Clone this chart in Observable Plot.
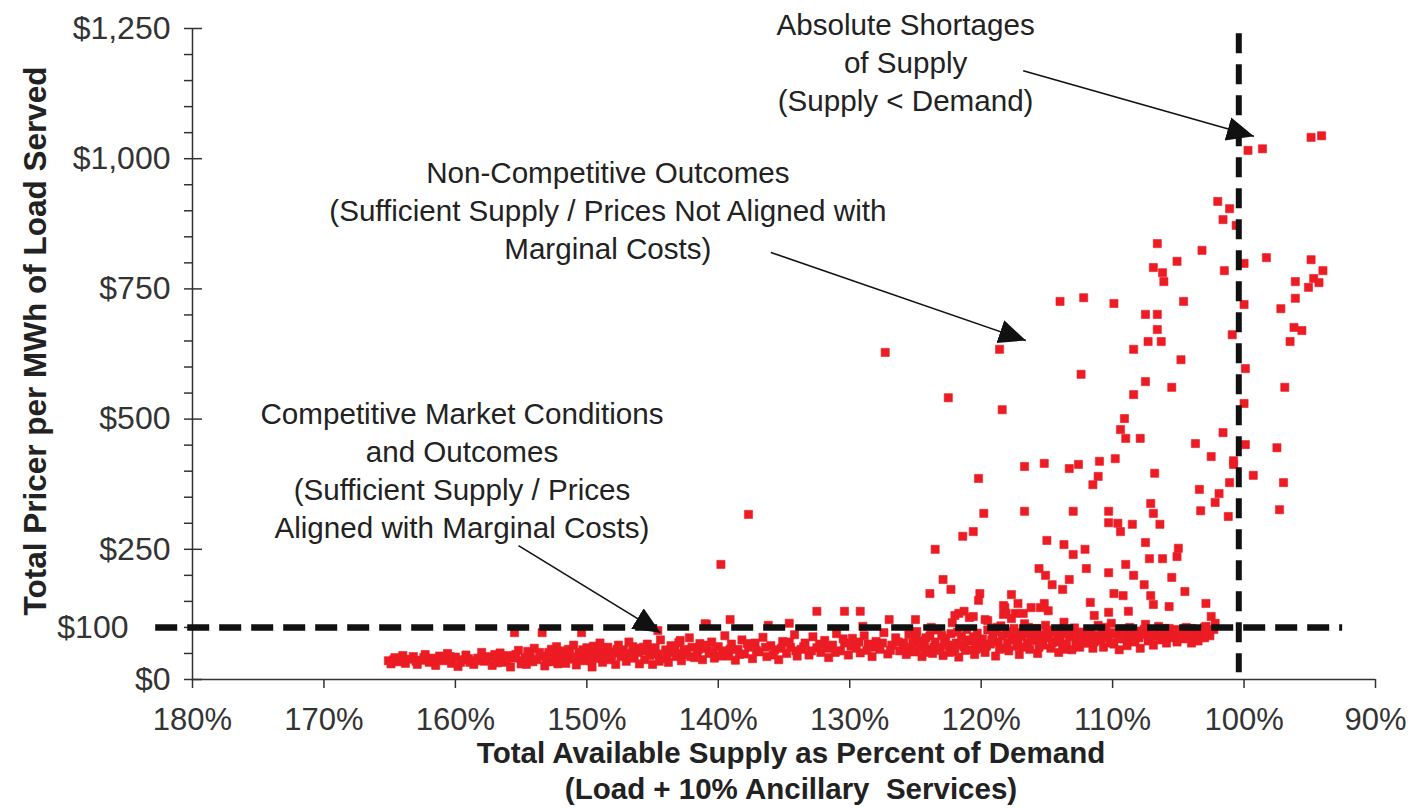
<!DOCTYPE html>
<html>
<head>
<meta charset="utf-8">
<script src="https://cdn.jsdelivr.net/npm/d3@7"></script>
<script src="https://cdn.jsdelivr.net/npm/@observablehq/plot@0.6"></script>
<style>
  html, body { margin: 0; padding: 0; background: #fff; }
  #chart { width: 1416px; height: 808px; }
</style>
</head>
<body>
<div id="chart"></div>
<script>
// ---- Data ----
// x: total available supply as % of demand, y: total price $/MWh
const sparsePoints = [
  [99.7,1016],[98.6,1019],[94.9,1041],[94.1,1044],
  [102.0,918],[101.1,904],[101.6,883],[100.6,872],[106.6,837],[103.2,824],[105.1,803],
  [106.9,791],[106.2,781],[106.1,764],[101.5,785],[100.0,799],[98.3,810],[94.9,806],
  [94.0,785],[96.1,764],[94.7,770],[94.3,762],[95.1,753],[96.1,732],[97.2,712],
  [100.0,720],[104.6,726],[107.5,701],[106.6,701],[109.9,722],[112.2,733],[114.0,726],
  [106.6,672],[107.3,649],[106.3,649],[108.4,634],[104.8,614],[100.9,662],[96.2,676],
  [95.6,670],[96.5,649],[118.6,634],[127.3,628],[112.4,586],[107.5,572],[105.5,561],
  [108.4,547],[99.9,597],[100.0,530],[96.9,561],[122.5,541],[118.4,518],[109.1,501],
  [109.4,480],[109.0,463],[107.9,463],[103.7,453],[101.6,474],[99.9,451],[97.5,445],
  [102.5,428],[100.8,420],[100.8,413],[99.3,392],[97.0,378],[101.1,378],[103.4,365],
  [101.9,357],[102.2,340],[103.3,324],[101.2,313],[97.3,326],[106.8,396],[109.8,424],
  [111.0,419],[112.6,413],[113.3,405],[111.1,390],[111.5,374],[115.2,415],[116.7,409],
  [120.2,386],[107.1,338],[106.9,319],[106.4,298],[108.5,298],[110.3,323],[110.3,301],
  [109.6,300],[109.4,284],[107.5,263],[105.0,252],[105.1,236],[106.2,232],[107.2,232],
  [109.0,221],[113.0,323],[116.7,323],[119.8,319],[120.6,284],[121.4,275],[123.5,250],
  [122.9,192],[122.3,173],[123.9,165],[115.0,267],[113.7,259],[113.0,240],[112.1,250],
  [115.6,213],[115.1,200],[114.6,182],[113.8,173],[113.3,192],[112.0,213],[110.3,205],
  [108.4,200],[107.6,182],[107.1,161],[106.9,144],[105.7,140],[105.5,196],[104.5,169],
  [109.9,165],[109.2,161],[111.7,148],[108.8,131],[110.3,129],[111.4,123],[102.9,146],
  [102.5,121],[102.2,108],[137.7,317],[139.8,221],
  [120.1,165],[120.2,152],[118.2,138],[117.7,163],[117.2,146],[121.7,127],[121.3,131],
  [120.9,119],[132.5,131],[130.4,131],[129.2,131],[118.3,125],[119.7,115],[127.0,115],
  [125.0,115],[139.1,115],[118.3,142],[115.2,146],[114.9,132],[115.5,138],[118.1,127],
  [117.4,127],[117.7,117],[116.8,127],[116.2,138],[104.0,98],[103.0,100],
  [122.0,123],[120.6,121],[119.5,113],[140.9,106],[134.6,108],[136.2,104],[129.0,102],
  [123.8,100],[122.2,109],[155.5,90],[153.4,90],[150.4,90],[144.6,94],[141.0,107],[142.9,75]
];

const bandPoints = [
  [165.1,36],[164.9,30],[164.6,42],[164.3,34],[164.0,46],[163.8,31],[163.5,39],[163.2,44],
  [162.9,29],[162.6,37],[162.3,48],[162.0,33],[161.8,41],[161.5,27],[161.2,45],[160.9,36],
  [160.6,50],[160.3,31],[160.0,43],[159.8,25],[159.5,38],[159.2,47],[158.9,33],[158.6,29],
  [158.3,41],[158.0,52],
  [157.8,35],[157.5,44],[157.2,27],[156.9,39],[156.6,51],[156.3,33],[156.0,46],[155.8,24],
  [155.5,41],[155.2,56],[154.9,36],[154.6,29],[154.3,48],[154.0,60],[153.8,38],[153.5,45],
  [153.2,26],[152.9,52],[152.6,34],[152.3,63],[152.0,41],[157.0,48],[155.0,30],[153.0,35],
  [152.4,48],[156.5,40],[154.5,54],
  [151.8,47],[151.6,31],[151.4,58],[151.2,39],[151.0,66],[150.8,28],[150.6,52],[150.4,44],
  [150.2,36],[150.0,61],[149.8,49],[149.6,24],[149.4,55],[149.2,40],[149.0,70],[148.8,33],
  [148.6,47],[148.4,62],[148.2,38],[148.0,53],[147.8,29],[147.6,66],[147.4,44],[147.2,57],
  [147.0,35],[146.8,72],[146.6,50],[146.4,41],[146.2,60],[146.0,30],[151.5,45],[150.5,38],
  [149.5,64],[148.5,56],[147.5,51],[146.5,63],[149.9,42],[148.9,49],
  [145.8,55],[145.6,38],[145.4,68],[145.2,46],[145.0,29],[144.8,61],[144.6,49],[144.4,76],
  [144.2,40],[144.0,57],[143.8,33],[143.6,65],[143.4,52],[143.2,44],[143.0,71],[142.8,36],
  [142.6,58],[142.4,48],[142.2,80],[142.0,62],[141.8,42],[141.6,53],[141.4,69],[141.2,38],
  [141.0,60],
  [140.7,50],[140.5,72],[140.3,41],[140.0,63],[139.7,55],[139.5,84],[139.2,45],[139.0,68],
  [138.7,37],[138.5,58],[138.2,76],[138.0,49],[137.7,62],[137.4,40],[137.2,70],[136.9,53],
  [136.6,81],[136.3,44],[136.0,65],[135.7,57],[135.4,38],[135.1,73],[134.8,50],[134.5,62],
  [134.2,86],[134.0,45],
  [133.7,58],[133.4,70],[133.1,47],[132.8,82],[132.5,61],[132.2,52],[131.9,75],[131.6,42],
  [131.3,66],[131.0,88],[130.7,55],[130.4,70],[130.1,47],[129.8,79],[129.5,60],[129.2,51],
  [128.9,84],[128.6,68],[128.3,44],[128.0,73],[127.7,58],[127.4,90],[127.1,49],[126.8,66],
  [126.5,80],[126.2,55],
  [125.9,70],[125.7,48],[125.5,86],[125.3,62],[125.1,53],[124.9,92],[124.7,75],[124.5,44],
  [124.3,68],[124.1,58],[123.9,84],[123.7,50],[123.5,72],[123.3,95],[123.1,61],[122.9,46],
  [122.7,79],[122.5,66],[122.3,88],[122.1,54],[121.9,70],[121.7,43],[121.5,82],[121.3,63],
  [121.1,96],[120.9,57],[120.7,74],[120.5,48],[120.3,89],[120.1,65],[125.0,78],[124.0,52],
  [123.0,85],[122.0,60],[121.0,76],[120.4,58],[123.6,62],[121.8,91],
  [119.9,78],[119.7,52],[119.5,95],[119.3,68],[119.1,85],[118.9,45],[118.7,72],[118.5,103],
  [118.3,60],[118.1,88],[117.9,55],[117.7,77],[117.5,98],[117.3,64],[117.1,48],[116.9,83],
  [116.7,107],[116.5,70],[116.3,58],[116.1,92],[115.9,75],[115.7,50],[115.5,86],[115.3,66],
  [115.1,104],[114.9,80],[114.7,60],[114.5,95],[114.3,72],[114.1,52],[113.9,88],[113.7,110],
  [113.5,68],[113.3,82],[113.1,57],[112.9,99],[112.7,74],[112.5,62],[112.3,91],[112.1,80],
  [119.6,64],[119.0,92],[118.6,58],[118.0,70],[117.4,82],[116.8,62],[116.0,80],[115.4,72],
  [114.8,90],[114.0,76],[113.4,95],[112.8,66],[117.0,90],[115.8,98],[113.6,58],[112.4,84],
  [118.8,100],[116.4,100],
  [111.9,70],[111.7,94],[111.5,60],[111.3,85],[111.1,104],[110.9,75],[110.7,62],[110.5,92],
  [110.3,80],[110.1,108],[109.9,68],[109.7,88],[109.5,57],[109.3,97],[109.1,78],[108.9,65],
  [108.7,100],[108.5,84],[108.3,72],[108.1,93],[107.9,60],[107.7,86],[107.5,106],[107.3,74],
  [107.1,95],[106.9,66],[106.7,82],[106.5,102],[106.3,76],[106.1,90],[105.9,70],[105.7,98],
  [105.5,80],[105.3,88],[105.1,72],[111.0,80],[110.0,90],[109.0,86],[108.0,80],[107.0,88],
  [106.0,82],[110.6,100],[108.8,92],
  [104.8,92],[104.6,78],[104.4,100],[104.1,85],[103.8,95],[103.5,74],[103.2,88],[102.9,102],
  [102.6,84],[102.3,96],[104.0,70],[103.0,80]
];

const bandPointsExtra = [
  [164.7,38],[164.1,40],[163.0,35],[162.4,42],[161.6,36],[161.0,40],[160.4,44],[159.6,33],
  [159.0,40],[158.4,36],[157.6,40],[156.8,32],[156.1,38],[155.4,48],[154.7,42],[154.1,34],
  [153.6,52],[153.1,42],[152.7,58],[152.2,30],
  [151.9,55],[151.3,50],[150.9,43],[150.3,57],[149.7,36],[149.1,59],[148.7,41],[148.1,46],
  [147.7,58],[147.1,48],[146.7,42],[146.1,52],[145.7,62],[145.1,54],[144.5,35],[143.9,47],
  [143.3,60],[142.7,50],[142.1,44],[141.5,58],[141.1,66],
  [140.4,56],[139.8,45],[139.1,58],[138.4,48],[137.8,69],[137.1,56],[136.4,62],[135.8,47],
  [135.2,60],[134.6,72],[134.1,55],
  [133.5,63],[132.9,55],[132.3,68],[131.7,60],[131.1,52],[130.5,78],[129.9,64],[129.3,72],
  [128.7,56],[128.1,62],[127.5,70],[126.9,56],[126.3,72],
  [125.8,60],[125.2,70],[124.6,60],[124.2,80],[123.4,56],[122.8,70],[122.4,52],[121.6,66],
  [121.2,56],[120.6,82],[120.2,72],
  [119.8,60],[119.2,76],[118.4,84],[117.8,92],[117.2,72],[116.6,88],[116.2,76],[115.6,62],
  [115.0,92],[114.6,70],[114.2,86],[113.8,66],[113.2,90],[112.6,84],[112.2,70],
  [111.8,84],[111.4,72],[110.8,90],[110.2,70],[109.6,78],[109.2,88],[108.6,76],[108.2,86],
  [107.6,96],[107.2,84],[106.6,92],[106.2,98],[105.6,88],[105.2,96],[104.9,84],[104.3,90],
  [103.6,86],[102.8,92]
];

const xTicks = [180, 170, 160, 150, 140, 130, 120, 110, 100, 90];
const yMinorTicks = d3.range(0, 1251, 50);
const yMajorTicks = [0, 250, 500, 750, 1000, 1250];
const yLabelTicks = [0, 250, 500, 750, 1000, 1250];
const yThresholdLabel = [100];

const priceThreshold = [100];
const supplyThreshold = [100.4];

const annotations = [
  {x: 125.75, y: 1188, text: "Absolute Shortages\nof Supply\n(Supply < Demand)"},
  {x: 148.4, y: 903, text: "Non-Competitive Outcomes\n(Sufficient Supply / Prices Not Aligned with\nMarginal Costs)"},
  {x: 159.5, y: 405, text: "Competitive Market Conditions\nand Outcomes\n(Sufficient Supply / Prices\nAligned with Marginal Costs)"}
];
const arrows = [
  {x1: 116.8, y1: 1169, x2: 99.25, y2: 1043},
  {x1: 136.0, y1: 820, x2: 116.6, y2: 651},
  {x1: 155.2, y1: 257, x2: 144.4, y2: 90}
];

const yTitle = "Total Pricer per MWh of Load Served";
const xTitle = "Total Available Supply as Percent of Demand\n(Load + 10% Ancillary  Services)";

const points = sparsePoints.concat(bandPoints, bandPointsExtra).map(([x, y]) => ({x, y}));

const FONT = "'Liberation Sans', Arial, sans-serif";
const RED = "#ec1c24";
const AX = "#333";
const dollars = d => "$" + d3.format(",")(d);

const chart = Plot.plot({
  width: 1416,
  height: 808,
  marginLeft: 192,
  marginRight: 41,
  marginTop: 28,
  marginBottom: 129,
  style: {fontFamily: FONT, background: "#fff", overflow: "visible"},
  x: {domain: [180, 90], axis: null},
  y: {domain: [0, 1250], axis: null},
  marks: [
    // points
    Plot.dot(points, {x: "x", y: "y", symbol: "square", r: 4.6, fill: RED, stroke: RED, strokeWidth: 0.6}),
    // axis lines
    Plot.ruleX([180], {y1: 0, y2: 1250, stroke: AX, strokeWidth: 1.5}),
    Plot.ruleY([0], {x1: 180, x2: 90, stroke: AX, strokeWidth: 1.5}),
    // y ticks
    Plot.axisY(yMinorTicks, {anchor: "left", tickSize: 8, tickFormat: () => "", stroke: AX, strokeWidth: 1.5}),
    Plot.axisY(yMajorTicks, {anchor: "left", tickSize: -10, tickFormat: () => "", stroke: AX, strokeWidth: 1.5}),
    Plot.axisY(yLabelTicks, {anchor: "left", tickSize: 0, tickPadding: 22, fontSize: 32, fill: AX, tickFormat: dollars}),
    Plot.axisY(yThresholdLabel, {anchor: "left", tickSize: 0, tickPadding: 64, fontSize: 32, fill: AX, tickFormat: dollars}),
    // x ticks
    Plot.axisX(xTicks, {anchor: "bottom", tickSize: 9, tickPadding: 19, fontSize: 31, stroke: AX, fill: AX, strokeWidth: 1.5,
      tickFormat: d => d + "%"}),
    // threshold lines
    Plot.ruleY(priceThreshold, {x1: 182.8, x2: 92.5, stroke: "#111", strokeWidth: 6.5, strokeDasharray: "22,10"}),
    Plot.ruleX(supplyThreshold, {y1: 1240, y2: 13, stroke: "#111", strokeWidth: 6, strokeDasharray: "20,11"}),
    // arrows
    Plot.link(arrows, {x1: "x1", y1: "y1", x2: "x2", y2: "y2", stroke: "#111", strokeWidth: 1.6}),
    // annotations
    Plot.text(annotations, {x: "x", y: "y", text: "text", fontSize: 29.6, fill: "#222", lineHeight: 1.28, lineAnchor: "middle", textAnchor: "middle"}),
    // axis titles
    Plot.text([yTitle], {frameAnchor: "left", rotate: -90, dx: -157, dy: -13, fontSize: 31.5, fontWeight: "bold", fill: "#222", textAnchor: "middle"}),
    Plot.text([xTitle], {frameAnchor: "bottom", dx: 7, dy: 90, fontSize: 29.5, fontWeight: "bold", fill: "#222", lineHeight: 1.2, lineAnchor: "middle", textAnchor: "middle"})
  ]
});

// filled triangular arrowheads for the annotation arrows
const ns = "http://www.w3.org/2000/svg";
const defs = document.createElementNS(ns, "defs");
const marker = document.createElementNS(ns, "marker");
marker.setAttribute("id", "arrowhead");
marker.setAttribute("markerUnits", "userSpaceOnUse");
marker.setAttribute("markerWidth", "30");
marker.setAttribute("markerHeight", "30");
marker.setAttribute("viewBox", "0 -15 30 30");
marker.setAttribute("refX", "27");
marker.setAttribute("refY", "0");
marker.setAttribute("orient", "auto");
const head = document.createElementNS(ns, "path");
head.setAttribute("d", "M0,-12L27,0L0,12Z");
head.setAttribute("fill", "#111");
marker.appendChild(head);
defs.appendChild(marker);
chart.insertBefore(defs, chart.firstChild);
chart.querySelectorAll('g[aria-label="link"] path').forEach(p => p.setAttribute("marker-end", "url(#arrowhead)"));

document.getElementById("chart").appendChild(chart);
</script>
</body>
</html>
